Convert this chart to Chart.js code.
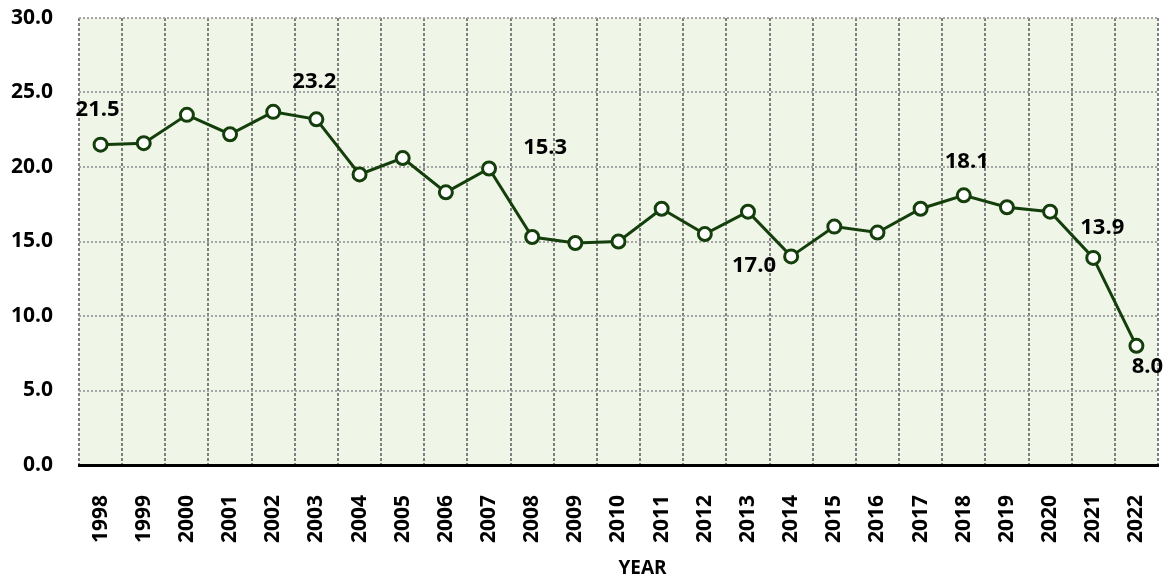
<!DOCTYPE html>
<html>
<head>
<meta charset="utf-8">
<script src="https://cdn.jsdelivr.net/npm/chart.js@4"></script>
<style>
  html, body { margin: 0; padding: 0; background: #fff; }
  #wrap { width: 1172px; height: 580px; position: relative; }
</style>
</head>
<body>
<div id="wrap"><canvas id="grafico"></canvas></div>
<script>
// series
const years = ['1998','1999','2000','2001','2002','2003','2004','2005','2006','2007','2008','2009',
  '2010','2011','2012','2013','2014','2015','2016','2017','2018','2019','2020','2021','2022'];
const values = [21.5, 21.6, 23.5, 22.2, 23.7, 23.2, 19.5, 20.6, 18.3, 19.9, 15.3, 14.9,
  15.0, 17.2, 15.5, 17.0, 14.0, 16.0, 15.6, 17.2, 18.1, 17.3, 17.0, 13.9, 8.0];
const yTicks = [0, 5, 10, 15, 20, 25, 30];

// which points get a value label, and where the label sits relative to the point
const labelled = ['1998', '2003', '2008', '2013', '2018', '2021', '2022'];
const labelShift = {
  '1998': [-3, -35], '2003': [-2, -38], '2008': [13, -89], '2013': [6, 54],
  '2018': [3, -34], '2021': [9, -30], '2022': [11, 21]
};

const FONT = '"Open Sans", "Liberation Sans", sans-serif';
const GREEN = '#143e0b';

// fundo da área do gráfico
const plotBg = {
  id: 'plotBg',
  beforeDraw(chart) {
    const { ctx, chartArea: a } = chart;
    ctx.save();
    ctx.fillStyle = '#eff5e7';
    ctx.fillRect(a.left, a.top, a.right - a.left, a.bottom - a.top);
    ctx.restore();
  }
};

// rótulos de valor + título do eixo X
const valueLabels = {
  id: 'valueLabels',
  afterDraw(chart) {
    const { ctx, chartArea: a } = chart;
    const meta = chart.getDatasetMeta(0);
    ctx.save();
    ctx.font = 'bold 22px ' + FONT;
    ctx.fillStyle = '#000';
    ctx.textAlign = 'center';
    ctx.textBaseline = 'middle';
    labelled.forEach(y => {
      const i = years.indexOf(y);
      const pt = meta.data[i];
      const [dx, dy] = labelShift[y];
      ctx.fillText(values[i].toFixed(1), pt.x + dx, pt.y + dy);
    });
    ctx.font = 'bold 19px ' + FONT;
    ctx.fillText('YEAR', (a.left + a.right) / 2 + 24, 569);
    ctx.restore();
  }
};

new Chart(document.getElementById('grafico'), {
  type: 'line',
  data: {
    labels: years,
    datasets: [{
      data: values,
      borderColor: GREEN,
      borderWidth: 3,
      pointRadius: 6.5,
      pointHoverRadius: 6.5,
      pointBackgroundColor: '#fff',
      pointBorderColor: GREEN,
      pointBorderWidth: 3,
      tension: 0
    }]
  },
  options: {
    responsive: true,
    maintainAspectRatio: false,
    animation: false,
    layout: { padding: { top: 18, right: 14, left: 0, bottom: 0 } },
    plugins: {
      legend: { display: false },
      tooltip: { enabled: false }
    },
    scales: {
      x: {
        offset: true,
        grid: {
          offset: true,
          drawTicks: false,
          color: '#7f7f7f',
          lineWidth: 2
        },
        border: { display: true, color: '#000', width: 3, dash: [3, 2] },
        ticks: {
          color: '#000',
          font: { family: FONT, size: 21, weight: 'bold' },
          maxRotation: 90,
          minRotation: 90,
          padding: 30,
          autoSkip: false
        },
        afterFit(scale) {
          scale.height = 115;
          scale.paddingLeft = 0;
          scale.paddingRight = 0;
        }
      },
      y: {
        min: 0,
        max: 30,
        afterBuildTicks(scale) { scale.ticks = yTicks.map(v => ({ value: v })); },
        grid: {
          drawTicks: false,
          color: '#a6a6a6',
          lineWidth: 2
        },
        border: { display: false, dash: [2, 2] },
        ticks: {
          color: '#000',
          font: { family: FONT, size: 21, weight: 'bold' },
          padding: 26,
          callback: v => Number(v).toFixed(1)
        },
        afterFit(scale) {
          scale.width = 79;
          scale.paddingTop = 0;
          scale.paddingBottom = 0;
        }
      }
    }
  },
  plugins: [plotBg, valueLabels]
});
</script>
</body>
</html>
